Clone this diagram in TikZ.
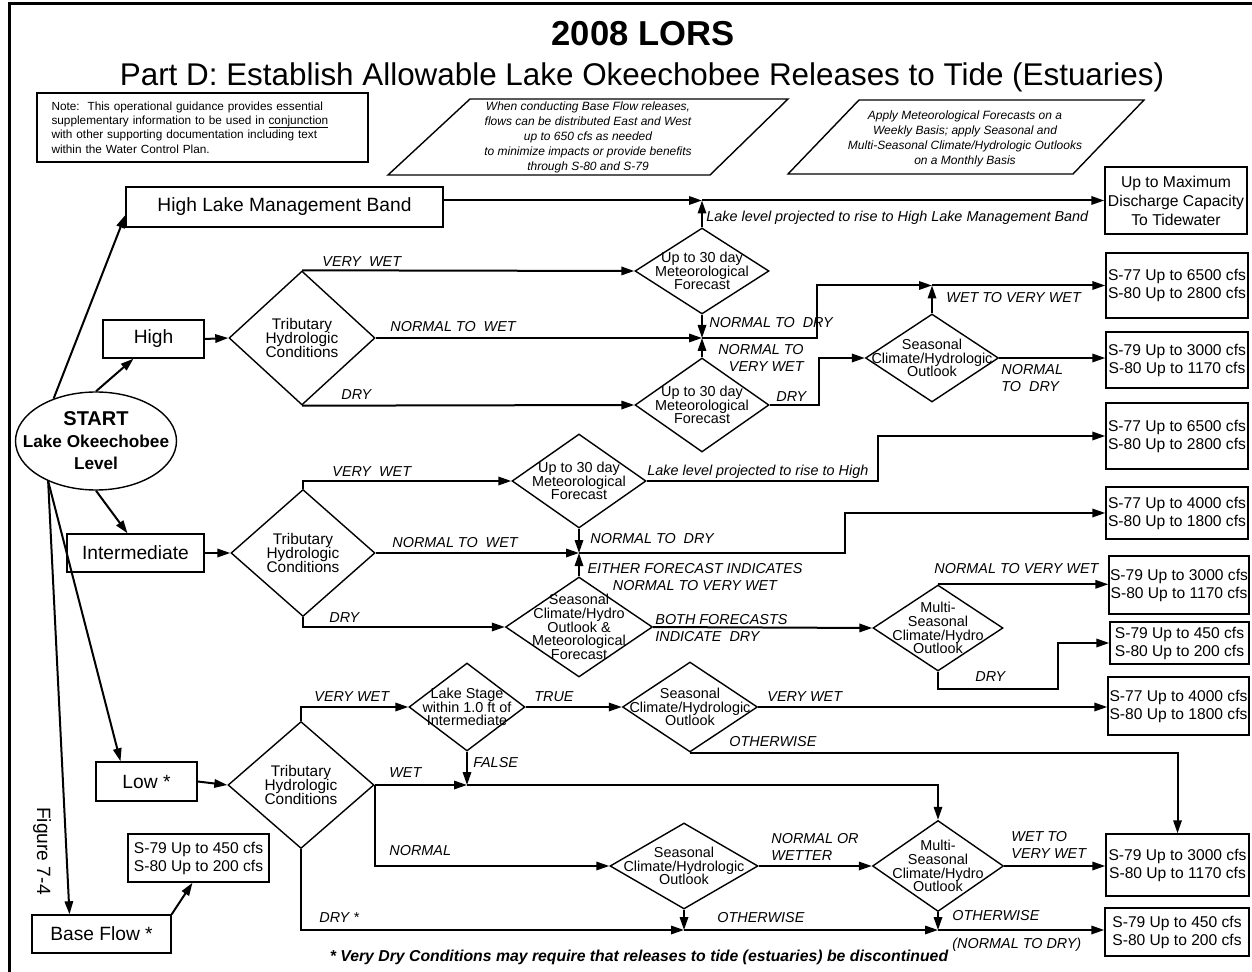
\documentclass[tikz,border=0pt]{standalone}
\usepackage{fontspec}
\setmainfont{Liberation Sans}
\usetikzlibrary{shapes.geometric, arrows.meta, positioning}

\begin{document}
\begin{tikzpicture}[
  x=0.5pt, y=-0.5pt,
  box/.style={rectangle, draw, line width=0.7pt, inner sep=0pt, font=\fontsize{9.6}{11}\selectfont, align=center},
  result/.style={rectangle, draw, line width=0.7pt, inner sep=0pt, minimum width=71pt, font=\fontsize{7.8}{9}\selectfont, align=center},
  decision/.style={diamond, draw, line width=0.7pt, inner sep=0pt},
  dtext/.style={font=\fontsize{7.2}{6.9}\selectfont, align=center, inner sep=0pt},
  ttext/.style={font=\fontsize{7.7}{7.2}\selectfont, align=center, inner sep=0pt},
  cond/.style={font=\fontsize{7.2}{8.6}\itshape\selectfont, inner sep=0pt, anchor=west},
  para/.style={font=\fontsize{6}{7.4}\itshape\selectfont, align=center, inner sep=0pt},
  arr/.style={-{Triangle[length=6.5pt, width=4.2pt]}, line width=1pt},
]
\useasboundingbox (0,0) rectangle (1252,972);
\draw[line width=1.5pt] (9,972) -- (9,4) -- (1252,4);

% titles and notes
\node[font=\fontsize{17.3}{20}\bfseries\selectfont, anchor=base] (title) at (643,46) {2008 LORS};
\node[font=\fontsize{15.7}{18}\selectfont, anchor=base] (subtitle) at (642,86) {Part D: Establish Allowable Lake Okeechobee Releases to Tide (Estuaries)};
\node[box, minimum width=165.5pt, minimum height=34.5pt, text width=151pt, align=left, font=\fontsize{5.9}{7.1}\selectfont] (note) at (202.5,127.5) {Note:\ \ This operational guidance provides essential\\supplementary information to be used in \underline{\smash{conjunction}}\\with other supporting documentation including text\\within the Water Control Plan.};
\draw[line width=0.7pt] (388,175) -- (470,99) -- (788,99) -- (710,175) -- cycle;
\node[para] (flownote) at (588,137.5) {When conducting Base Flow releases,\\flows can be distributed East and West\\up to 650 cfs as needed\\to minimize impacts or provide benefits\\through S-80 and S-79};
\draw[line width=0.7pt] (788,174) -- (859,100) -- (1144,100) -- (1073,174) -- cycle;
\node[para] (fcstnote) at (965,139) {Apply Meteorological Forecasts on a\\Weekly Basis; apply Seasonal and\\Multi-Seasonal Climate/Hydrologic Outlooks\\on a Monthly Basis};
\node[font=\fontsize{9.6}{11}\selectfont, rotate=-90] (figlabel) at (42,851) {Figure 7-4};
\node[font=\fontsize{7.9}{9}\bfseries\itshape\selectfont] (footnote) at (639,957) {* Very Dry Conditions may require that releases to tide (estuaries) be discontinued};

% start and lake level bands
\node[ellipse, draw, line width=0.7pt, inner sep=0pt, minimum width=80.5pt, minimum height=49pt,
  label={[align=center, inner sep=0pt, font=\fontsize{8.6}{11}\bfseries\selectfont]center:{{\fontsize{10}{11}\selectfont START}\\Lake Okeechobee\\Level}}] (start) at (96,441) {};
\node[box, minimum width=158.5pt, minimum height=20pt] (hlmb) at (284.5,207) {High Lake Management Band};
\node[box, minimum width=50.5pt, minimum height=19pt] (high) at (153.5,339) {High};
\node[box, minimum width=68.5pt, minimum height=19pt] (inter) at (135.5,553) {Intermediate};
\node[box, minimum width=50.5pt, minimum height=19.5pt] (low) at (146.5,781.5) {Low *};
\node[box, minimum width=69.5pt, minimum height=19pt] (base) at (101.5,934) {Base Flow *};
\node[result, minimum width=70.5pt, minimum height=24pt] (baseout) at (198.5,858) {S-79 Up to 450 cfs\\S-80 Up to 200 cfs};

% release results
\node[result, minimum height=33.5pt, font=\fontsize{7.85}{9.5}\selectfont] (maxcap) at (1176,200.5) {Up to Maximum\\Discharge Capacity\\To Tidewater};
\node[result, minimum height=32.5pt] (r1) at (1177,285.5) {S-77 Up to 6500 cfs\\S-80 Up to 2800 cfs};
\node[result, minimum height=28pt] (r2) at (1177,360) {S-79 Up to 3000 cfs\\S-80 Up to 1170 cfs};
\node[result, minimum height=33pt] (r3) at (1177,436) {S-77 Up to 6500 cfs\\S-80 Up to 2800 cfs};
\node[result, minimum height=26pt] (r4) at (1177,513) {S-77 Up to 4000 cfs\\S-80 Up to 1800 cfs};
\node[result, minimum height=29pt, minimum width=70pt] (r5) at (1179,585) {S-79 Up to 3000 cfs\\S-80 Up to 1170 cfs};
\node[result, minimum height=21pt, minimum width=69.5pt] (r6) at (1179.5,643) {S-79 Up to 450 cfs\\S-80 Up to 200 cfs};
\node[result, minimum height=29pt, minimum width=70.5pt] (r7) at (1178.5,706) {S-77 Up to 4000 cfs\\S-80 Up to 1800 cfs};
\node[result, minimum height=31pt, minimum width=71.5pt] (r8) at (1177.5,865) {S-79 Up to 3000 cfs\\S-80 Up to 1170 cfs};
\node[result, minimum height=24pt, minimum width=72pt] (r9) at (1177,932) {S-79 Up to 450 cfs\\S-80 Up to 200 cfs};

% decisions
\node[decision, minimum width=73pt, minimum height=67pt, label={[ttext]center:{Tributary\\Hydrologic\\Conditions}}] (trib1) at (302,338) {};
\node[decision, minimum width=67pt, minimum height=43pt, label={[dtext]center:{Up to 30 day\\Meteorological\\Forecast}}] (met1) at (702,271) {};
\node[decision, minimum width=67pt, minimum height=47pt, label={[dtext]center:{Up to 30 day\\Meteorological\\Forecast}}] (met2) at (702,405) {};
\node[decision, minimum width=66.5pt, minimum height=44pt, label={[dtext]center:{Seasonal\\Climate/Hydrologic\\Outlook}}] (seas1) at (932,358) {};
\node[decision, minimum width=72pt, minimum height=63.5pt, label={[ttext]center:{Tributary\\Hydrologic\\Conditions}}] (trib2) at (303,553) {};
\node[decision, minimum width=67pt, minimum height=47pt, label={[dtext]center:{Up to 30 day\\Meteorological\\Forecast}}] (met3) at (579,481) {};
\node[decision, minimum width=73.5pt, minimum height=50pt, label={[dtext]center:{Seasonal\\Climate/Hydro\\Outlook \&\\Meteorological\\Forecast}}] (smf) at (579,627) {};
\node[decision, minimum width=65pt, minimum height=43pt, label={[dtext]center:{Multi-\\Seasonal\\Climate/Hydro\\Outlook}}] (multi1) at (938,628) {};
\node[decision, minimum width=73pt, minimum height=63.5pt, label={[ttext]center:{Tributary\\Hydrologic\\Conditions}}] (trib3) at (301,785) {};
\node[decision, minimum width=58pt, minimum height=44pt, label={[dtext]center:{Lake Stage\\within 1.0 ft of\\Intermediate}}] (stage) at (467,707) {};
\node[decision, minimum width=67.5pt, minimum height=45pt, label={[dtext]center:{Seasonal\\Climate/Hydrologic\\Outlook}}] (seas2) at (690,707) {};
\node[decision, minimum width=74pt, minimum height=43pt, label={[dtext]center:{Seasonal\\Climate/Hydrologic\\Outlook}}] (seas3) at (684,866) {};
\node[decision, minimum width=65.5pt, minimum height=45.5pt, label={[dtext]center:{Multi-\\Seasonal\\Climate/Hydro\\Outlook}}] (multi2) at (938,866) {};

\coordinate (jhl) at (met1.north |- maxcap.west);
\coordinate (jh) at (met1.south |- trib1.east);
\coordinate (jw) at (seas1.north |- r1.west);
\coordinate (ji) at (met3.south |- trib2.east);
\coordinate (jf) at (stage.south |- trib3.east);
\coordinate (jd1) at (684,930);
\coordinate (jd2) at (multi2.south |- jd1);

% from start
\draw[arr] (start.135) -- ([yshift=-4pt]hlmb.west);
\draw[arr] (start.north) -- ([xshift=-10pt]high.south);
\draw[arr] (start.south) -- ([xshift=-4pt]inter.north);
\draw[arr] (start.220) -- ([xshift=-13pt]low.north);
\draw[arr] (start.220) -- ([xshift=-16pt]base.north);
\draw[arr] (base.north east) -- ([xshift=-3pt]baseout.south);

% high lake band and high
\draw[arr] (hlmb.east |- jhl) -- (jhl);
\draw[arr] (jhl) -- (maxcap.west |- jhl);
\draw[arr] (met1.north) -- (jhl);
\draw[arr] (high.east) -- (trib1.west);
\draw[arr] (trib1.north) -- (met1.west);
\draw[arr] (trib1.east) -- (jh);
\draw[arr] (met1.south) -- (jh);
\draw[arr] (met2.north) -- (jh);
\draw[arr] (trib1.south) -- (met2.west);
\draw[arr] (jh) -- ++(115,0) |- (jw);
\draw[arr] (jw) -- (r1.west |- jw);
\draw[arr] (seas1.north) -- (jw);
\draw[arr] (met2.east) -- ++(49,0) |- (seas1.west);
\draw[arr] (seas1.east) -- (seas1.east -| r2.west);

% intermediate
\draw[arr] (inter.east) -- (trib2.west);
\draw[arr] (trib2.north) |- (met3.west);
\draw[arr] (met3.east) -- ++(231,0) |- (r3.west);
\draw[arr] (trib2.east) -- (ji);
\draw[arr] (met3.south) -- (ji);
\draw[arr] (smf.north) -- (ji);
\draw[arr] (ji) -- ++(266,0) |- (r4.west);
\draw[arr] (trib2.south) |- (smf.west);
\draw[arr] (smf.east) -- (multi1.west);
\draw[arr] (multi1.north) -- (multi1.north -| r5.west);
\draw[arr] (multi1.south) -- ++(0,17) -- ++(120,0) |- (r6.west);

% low
\draw[arr] (low.east) -- (trib3.west);
\draw[arr] (trib3.north) |- (stage.west);
\draw[arr] (stage.east) -- (seas2.west);
\draw[arr] (seas2.east) -- (seas2.east -| r7.west);
\draw[arr] (seas2.south) -| (r8.north);
\draw[arr] (stage.south) -- (jf);
\draw[arr] (trib3.east) -- (jf);
\draw[arr] (jf) -| (multi2.north);
\draw[arr] (trib3.east) |- (seas3.west);
\draw[arr] (seas3.east) -- (multi2.west);
\draw[arr] (multi2.east) -- (multi2.east -| r8.west);
\draw[arr] (trib3.south) |- (jd1);
\draw[arr] (seas3.south) -- (jd1);
\draw[arr] (jd1) -- (jd2);
\draw[arr] (multi2.south) -- (jd2);
\draw[arr] (jd2) -- (jd2 -| r9.west);

% branch labels
\node[cond] (lhl) at (706,218) {Lake level projected to rise to High Lake Management Band};
\node[cond] (lh1) at (322,262) {VERY\ \ WET};
\node[cond] (lh2) at (390,327) {NORMAL TO\ \ WET};
\node[cond] (lh3) at (341,395) {DRY};
\node[cond] (lh4) at (709,323) {NORMAL TO\ \ DRY};
\node[cond, anchor=east, align=right] (lh5) at (804,358) {NORMAL TO\\VERY WET};
\node[cond] (lh6) at (776,397) {DRY};
\node[cond] (lh7) at (946,298) {WET TO VERY WET};
\node[cond, align=left] (lh8) at (1001,378) {NORMAL\\TO\ \ DRY};
\node[cond] (li1) at (332,472) {VERY\ \ WET};
\node[cond] (li2) at (392,543) {NORMAL TO\ \ WET};
\node[cond] (li3) at (329,618) {DRY};
\node[cond] (li4) at (647,472) {Lake level projected to rise to High};
\node[cond] (li5) at (590,539) {NORMAL TO\ \ DRY};
\node[cond, anchor=center, align=center] (li6) at (695,577) {EITHER FORECAST INDICATES\\NORMAL TO VERY WET};
\node[cond, align=left] (li7) at (655,628) {BOTH FORECASTS\\INDICATE\ \ DRY};
\node[cond] (li8) at (934,569) {NORMAL TO VERY WET};
\node[cond] (li9) at (975,677) {DRY};
\node[cond] (ll1) at (314,697) {VERY WET};
\node[cond] (ll2) at (534,697) {TRUE};
\node[cond] (ll3) at (767,697) {VERY WET};
\node[cond] (ll4) at (729,742) {OTHERWISE};
\node[cond] (ll5) at (473,763) {FALSE};
\node[cond] (ll6) at (389,773) {WET};
\node[cond] (ll7) at (389,851) {NORMAL};
\node[cond, align=left] (ll8) at (771,847) {NORMAL OR\\WETTER};
\node[cond, align=left] (ll9) at (1011,845) {WET TO\\VERY WET};
\node[cond] (ll10) at (319,918) {DRY *};
\node[cond] (ll11) at (717,918) {OTHERWISE};
\node[cond, align=left] (ll12) at (952,931) {OTHERWISE\\[5pt](NORMAL TO DRY)};
\end{tikzpicture}
\end{document}
